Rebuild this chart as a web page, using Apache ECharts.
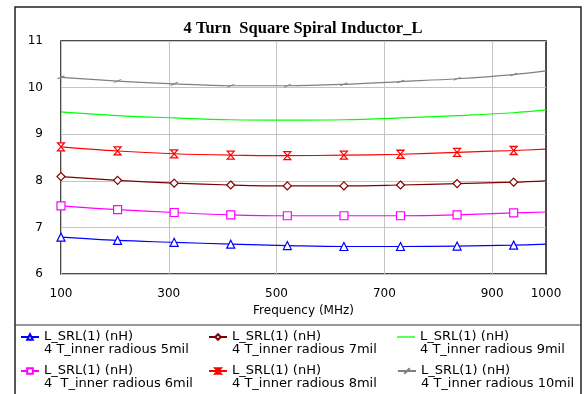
<!DOCTYPE html>
<html>
<head>
<meta charset="utf-8">
<script src="https://cdn.jsdelivr.net/npm/echarts@6/dist/echarts.min.js"></script>
<style>
html,body{margin:0;padding:0;background:#fff;}
#chart{width:584px;height:394px;}
</style>
</head>
<body>
<div id="chart"></div>
<script>
// ---- data ----
const freqs = [100, 205, 310, 415, 520, 625, 730, 835, 940, 1000];
const xTickLabels = [100, 300, 500, 700, 900, 1000];
const yTicks = [6, 7, 8, 9, 10, 11];
const seriesNames = [
  'L_SRL(1) (nH)\n4 T_inner radious 5mil',
  'L_SRL(1) (nH)\n4  T_inner radious 6mil',
  'L_SRL(1) (nH)\n4 T_inner radious 7mil',
  'L_SRL(1) (nH)\n4 T_inner radious 8mil',
  'L_SRL(1) (nH)\n4 T_inner radious 9mil',
  'L_SRL(1) (nH)\n4 T_inner radious 10mil'
];
const r5mil  = [6.79, 6.72, 6.68, 6.64, 6.61, 6.59, 6.59, 6.60, 6.62, 6.64];
const r6mil  = [7.46, 7.38, 7.32, 7.27, 7.25, 7.25, 7.25, 7.27, 7.31, 7.33];
const r7mil  = [8.09, 8.01, 7.95, 7.91, 7.89, 7.89, 7.91, 7.94, 7.97, 8.00];
const r8mil  = [8.73, 8.64, 8.58, 8.55, 8.54, 8.55, 8.57, 8.61, 8.65, 8.68];
const r9mil  = [9.48, 9.40, 9.35, 9.31, 9.30, 9.31, 9.35, 9.40, 9.46, 9.52];
const r10mil = [10.22, 10.14, 10.08, 10.04, 10.04, 10.07, 10.13, 10.19, 10.28, 10.36];

// ---- styles ----
const FONT = 'DejaVu Sans';
const values = [r5mil, r6mil, r7mil, r8mil, r9mil, r10mil];
const colors = ['#0000ff', '#ff00ff', '#800000', '#ff0000', '#00ff00', '#808080'];
const symbols = [
  'triangle',
  'rect',
  'diamond',
  'path://M0,0L10,0L0,10L10,10Z',
  'none',
  'path://M0,6L10,0'
];
const symbolSizes = [8, 8, 8, [7, 8], 0, [7, 3]];

const series = values.map((vals, i) => ({
  name: seriesNames[i],
  type: 'line',
  smooth: 0.35,
  symbol: symbols[i],
  symbolSize: symbolSizes[i],
  showSymbol: symbols[i] !== 'none',
  clip: false,
  color: colors[i],
  lineStyle: { color: colors[i], width: 1.2 },
  itemStyle: { color: '#fff', borderColor: colors[i], borderWidth: 1.2 },
  emphasis: { disabled: true },
  z: 3,
  data: freqs.map((f, k) => k === freqs.length - 1
    ? { value: [f, vals[k]], symbol: 'none' }
    : [f, vals[k]])
}));

// legend: 3 columns x 2 rows (column order: 5,6 | 7,8 | 9,10)
const legendCols = [20, 208, 397];
const legendRows = [317.5, 351.5];
const legends = seriesNames.map((n, i) => {
  const lg = {
    data: [n],
    left: legendCols[Math.floor(i / 2)],
    top: legendRows[i % 2],
    padding: 0,
    itemWidth: 18,
    itemHeight: 7,
    itemGap: 0,
    selectedMode: false,
    formatter: name => '\n' + name,
    textStyle: {
      fontFamily: FONT, fontSize: 13, color: '#000', lineHeight: 13
    }
  };
  if (symbols[i] === 'none') {
    lg.itemHeight = 1.3;
    lg.icon = 'rect';
    lg.itemStyle = { color: colors[i], borderWidth: 0 };
  }
  return lg;
});

const chart = echarts.init(document.getElementById('chart'), null, { renderer: 'canvas' });
chart.setOption({
  animation: false,
  backgroundColor: '#fff',
  title: {
    text: '4 Turn  Square Spiral Inductor_L',
    left: 303,
    top: 20,
    textAlign: 'center',
    padding: 0,
    textStyle: { fontFamily: 'Liberation Serif', fontWeight: 'bold', fontSize: 16.5, color: '#000' }
  },
  graphic: [
    { type: 'rect', silent: true, z: -1,
      shape: { x: 15, y: 7, width: 566, height: 420 },
      style: { fill: 'none', stroke: '#222', lineWidth: 1.5 } },
    { type: 'line', silent: true,
      shape: { x1: 15, y1: 325, x2: 581, y2: 325 },
      style: { stroke: '#333', lineWidth: 1.2 } }
  ],
  legend: legends,
  grid: {
    left: 61, right: 38, top: 41, bottom: 120,
    show: true, borderColor: '#111', borderWidth: 1.5, backgroundColor: 'transparent'
  },
  xAxis: {
    type: 'value',
    min: 100, max: 1000, interval: 100,
    name: 'Frequency (MHz)',
    nameLocation: 'middle',
    nameGap: 29,
    nameTextStyle: { fontFamily: FONT, fontSize: 12, color: '#000' },
    axisLine: { show: false },
    axisTick: { show: false },
    axisLabel: {
      margin: 14, fontFamily: FONT, fontSize: 12, color: '#000',
      showMinLabel: true, showMaxLabel: true,
      formatter: v => xTickLabels.indexOf(v) >= 0 ? String(v) : ''
    },
    splitLine: { show: true, lineStyle: { color: ['#c4c4c4', 'rgba(0,0,0,0)'], width: 1 } }
  },
  yAxis: {
    type: 'value',
    min: yTicks[0], max: yTicks[yTicks.length - 1], interval: 1,
    axisLine: { show: false },
    axisTick: { show: false },
    axisLabel: { margin: 18, fontFamily: FONT, fontSize: 12, color: '#000', padding: [6, 0, 0, 0] },
    splitLine: { show: true, lineStyle: { color: '#c4c4c4', width: 1 } }
  },
  series: series
});
</script>
</body>
</html>
